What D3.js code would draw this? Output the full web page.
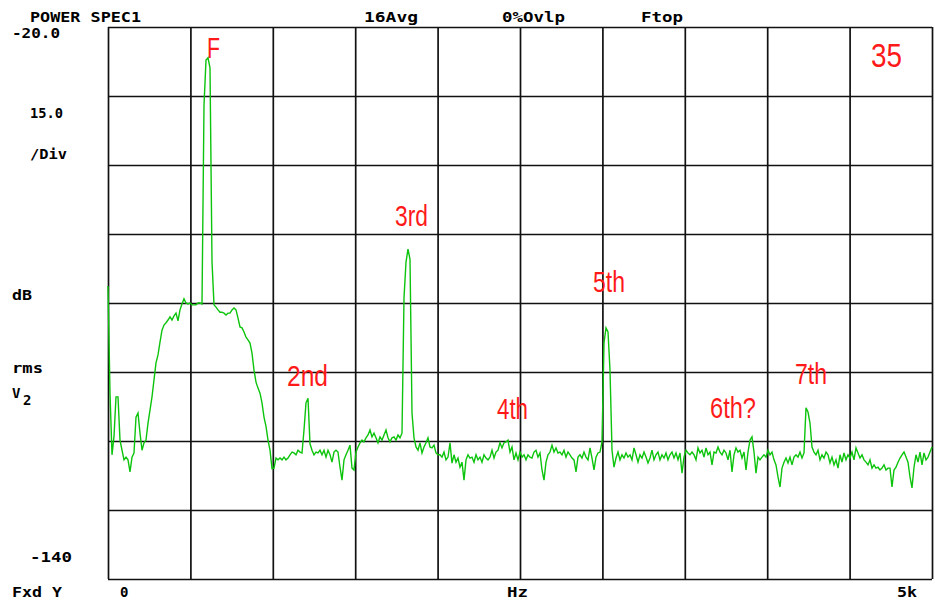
<!DOCTYPE html>
<html>
<head>
<meta charset="utf-8">
<script src="https://cdn.jsdelivr.net/npm/d3@7"></script>
<style>
  body { margin: 0; background: #fff; }
  svg { display: block; }
  .lbl { font-family: "DejaVu Sans Mono", monospace; font-weight: bold; font-size: 14px; fill: #000; }
  .note { font-family: "Liberation Sans", Arial, sans-serif; fill: #ff1a1a; }
</style>
</head>
<body>
<svg id="chart"></svg>
<script>
// spettro misurato: un valore ogni bin, da 0 a 5 kHz (413 bin)
const levelsDb = [
  -76.3, -99.6, -113.0, -109.0, -100.4, -100.4, -109.8, -112.0, -114.1, -113.5,
  -114.1, -116.7, -113.5, -112.6, -104.8, -103.9, -108.3, -112.0, -110.4, -109.8,
  -106.1, -103.3, -100.4, -96.7, -93.0, -91.3, -88.5, -85.9, -84.8, -84.3,
  -83.7, -83.0, -83.7, -82.8, -82.2, -83.9, -81.5, -80.2, -79.1, -80.0,
  -80.2, -80.0, -80.4, -80.4, -80.4, -80.0, -80.0, -80.2, -37.0, -27.2,
  -26.7, -28.9, -71.0, -80.4, -80.9, -81.5, -82.0, -82.0, -82.2, -82.6,
  -82.2, -82.2, -81.5, -81.1, -81.5, -83.3, -85.2, -85.4, -86.3, -87.4,
  -88.0, -88.7, -90.9, -94.6, -97.2, -98.5, -99.6, -101.7, -104.8, -106.8,
  -109.8, -112.0, -116.0, -115.9, -113.7, -114.1, -113.7, -114.1, -113.5, -114.1,
  -113.7, -113.0, -112.4, -112.6, -113.0, -112.0, -112.4, -112.6, -107.6, -101.7,
  -100.7, -110.6, -112.0, -113.0, -112.4, -112.6, -112.0, -113.0, -112.0, -113.5,
  -112.0, -113.0, -114.6, -112.4, -112.0, -112.4, -115.7, -118.5, -114.1, -113.0,
  -112.0, -110.9, -115.9, -116.3, -112.4, -111.3, -110.4, -109.8, -110.2, -109.3,
  -108.7, -107.6, -109.1, -108.3, -109.3, -110.4, -109.1, -109.8, -108.7, -107.6,
  -109.3, -110.2, -109.3, -109.1, -109.8, -108.7, -109.3, -108.3, -78.9, -71.1,
  -68.3, -70.5, -103.9, -109.3, -111.3, -112.0, -110.4, -112.6, -111.3, -110.4,
  -109.3, -111.3, -111.5, -110.9, -112.6, -113.0, -113.0, -113.5, -112.4, -114.1,
  -113.5, -110.4, -114.8, -113.0, -114.6, -113.7, -115.7, -114.6, -118.5, -114.1,
  -113.0, -113.7, -113.5, -114.6, -113.0, -114.1, -113.5, -114.6, -113.0, -113.7,
  -114.1, -113.5, -112.0, -113.7, -112.4, -112.0, -110.4, -111.5, -110.4, -110.2,
  -109.8, -112.4, -111.3, -114.1, -112.6, -114.1, -112.4, -113.5, -113.0, -114.1,
  -113.0, -113.5, -113.7, -112.4, -112.0, -113.5, -112.6, -116.3, -118.5, -114.6,
  -113.0, -112.4, -110.9, -112.4, -111.5, -112.6, -112.4, -113.0, -112.0, -113.5,
  -112.4, -113.0, -113.7, -114.1, -116.7, -113.5, -113.0, -113.7, -112.4, -113.5,
  -114.1, -111.5, -113.7, -116.3, -113.5, -112.6, -112.4, -110.2, -88.7, -85.4,
  -86.3, -94.6, -112.0, -115.7, -113.7, -112.4, -114.1, -113.0, -113.7, -112.6,
  -113.5, -113.0, -114.1, -111.5, -113.0, -114.6, -113.0, -113.7, -112.4, -113.5,
  -114.8, -113.7, -112.0, -114.1, -113.0, -112.4, -114.1, -113.0, -113.7, -112.6,
  -114.1, -113.0, -112.4, -113.7, -112.6, -114.1, -112.6, -117.0, -113.5, -112.0,
  -112.6, -113.0, -112.4, -113.0, -114.1, -111.5, -112.6, -112.0, -113.5, -111.5,
  -113.0, -112.4, -115.2, -112.4, -112.6, -111.3, -112.4, -113.0, -112.0, -112.6,
  -114.1, -112.0, -116.7, -113.0, -111.5, -112.4, -112.0, -113.7, -112.4, -116.3,
  -112.4, -109.8, -109.1, -112.4, -117.0, -113.5, -114.1, -113.5, -113.0, -113.5,
  -112.0, -113.0, -112.4, -114.1, -115.2, -117.8, -120.0, -115.9, -114.6, -113.7,
  -114.8, -113.5, -115.2, -113.5, -113.0, -113.5, -112.4, -113.7, -112.6, -102.8,
  -103.7, -106.1, -111.3, -112.4, -113.0, -112.0, -114.1, -113.0, -113.7, -112.4,
  -113.0, -114.8, -113.5, -115.2, -114.1, -115.9, -113.0, -114.6, -112.6, -114.1,
  -113.0, -113.7, -112.4, -114.1, -111.5, -112.6, -113.7, -113.0, -114.1, -114.6,
  -115.2, -114.1, -115.9, -115.2, -115.9, -115.7, -116.3, -115.9, -115.2, -116.3,
  -115.9, -115.9, -120.0, -116.3, -115.7, -114.6, -113.7, -113.0, -112.4, -113.5,
  -114.6, -117.8, -120.2, -115.7, -113.0, -114.6, -112.4, -115.2, -112.6, -114.1,
  -113.5, -112.4, -111.3
];

// asse frequenze: 0..5 kHz
const spanHz = 5000;
const freqHz = levelsDb.map((_, k) => k * spanHz / (levelsDb.length - 1));

// griglia: 10 divisioni orizzontali, 8 verticali da 15 dB
const gridHz = [0, 500, 1000, 1500, 2000, 2500, 3000, 3500, 4000, 4500, 5000];
const gridDb = [-140, -125, -110, -95, -80, -65, -50, -35, -20];

// etichette delle armoniche
const harmonicLabels = ["F", "2nd", "3rd", "4th", "5th", "6th?", "7th"];

// testi dello strumento
const headerTexts = ["POWER SPEC1", "16Avg", "0%Ovlp", "Ftop"];
const yAxisTexts = ["-20.0", "15.0", "/Div", "dB", "rms", "-140"];
const xAxisTexts = ["Fxd Y", "0", "Hz", "5k"];

const W = 935, H = 602;
const plot = { left: 108, right: 932, top: 27, bottom: 579 };

// posizione delle note rosse: [x sinistra, x destra, linea di base]
const noteLayout = [
  [207, 220, 58],
  [287, 328, 386],
  [395, 428, 226],
  [497, 528, 419],
  [593, 625, 292],
  [710, 756, 418],
  [795, 827, 384]
];

const svg = d3.select("#chart").attr("width", W).attr("height", H);
svg.append("rect").attr("width", W).attr("height", H).attr("fill", "#fff");

const x = d3.scaleLinear().domain([0, spanHz]).range([plot.left, plot.right]);
const y = d3.scaleLinear().domain([-140, -20]).range([plot.bottom, plot.top]);

// Griglia con gli assi
svg.append("g")
  .attr("transform", `translate(0,${plot.bottom})`)
  .call(d3.axisBottom(x).tickValues(gridHz).tickSize(-(plot.bottom - plot.top)).tickFormat(""))
  .call(g => g.select(".domain").remove())
  .call(g => g.selectAll("line").attr("stroke", "#111").attr("stroke-width", 1.7));

svg.append("g")
  .attr("transform", `translate(${plot.left},0)`)
  .call(d3.axisLeft(y).tickValues(gridDb).tickSize(-(plot.right - plot.left)).tickFormat(""))
  .call(g => g.select(".domain").remove())
  .call(g => g.selectAll("line").attr("stroke", "#111").attr("stroke-width", 1.7));

// Traccia dello spettro
const line = d3.line()
  .x((d, i) => x(freqHz[i]))
  .y(d => y(d));

svg.append("path")
  .datum(levelsDb)
  .attr("fill", "none")
  .attr("stroke", "#0cc40c")
  .attr("stroke-width", 1.4)
  .attr("d", line);

// Testi neri (posizione, larghezza)
function label(text, x0, x1, base) {
  const t = svg.append("text").attr("class", "lbl").attr("x", x0).attr("y", base).text(text);
  if (x1 - x0 > 12) t.attr("textLength", x1 - x0).attr("lengthAdjust", "spacingAndGlyphs");
  return t;
}

label(headerTexts[0], 30, 141, 22);
label(headerTexts[1], 364, 418, 22);
label(headerTexts[2], 502, 565, 22);
label(headerTexts[3], 641, 683, 22);

label(yAxisTexts[0], 12, 60, 38);
label(yAxisTexts[1], 30, 63, 118);
label(yAxisTexts[2], 30, 67, 159);
label(yAxisTexts[3], 12, 32, 300);
label(yAxisTexts[4], 12, 43, 373);
label("V", 12, 23, 398);
label("2", 23, 32, 405);
label(yAxisTexts[5], 30, 72, 562);

label(xAxisTexts[0], 12, 62, 597);
label(xAxisTexts[1], 120, 130, 597);
label(xAxisTexts[2], 507, 528, 597);
label(xAxisTexts[3], 897, 917, 597);

// Note rosse sulle armoniche
svg.append("g")
  .selectAll("text")
  .data(harmonicLabels)
  .join("text")
  .attr("class", "note")
  .attr("font-size", 30)
  .attr("x", (d, i) => noteLayout[i][0])
  .attr("y", (d, i) => noteLayout[i][2])
  .attr("textLength", (d, i) => noteLayout[i][1] - noteLayout[i][0])
  .attr("lengthAdjust", "spacingAndGlyphs")
  .text(d => d);

svg.append("text")
  .attr("class", "note")
  .attr("font-size", 33)
  .attr("x", 871)
  .attr("y", 67)
  .attr("textLength", 31)
  .attr("lengthAdjust", "spacingAndGlyphs")
  .text("35");
</script>
</body>
</html>
